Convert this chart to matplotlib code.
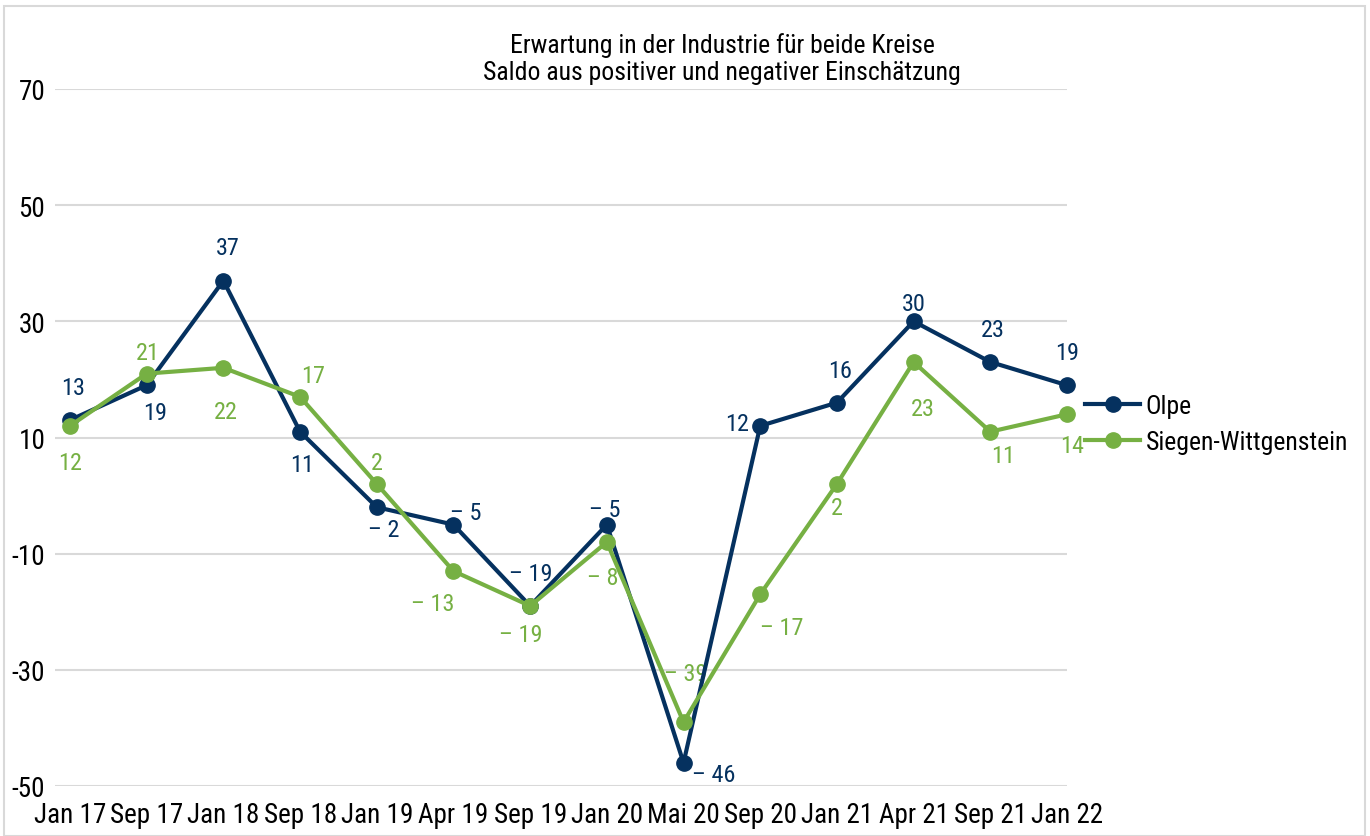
import matplotlib.pyplot as plt
from matplotlib import font_manager
from matplotlib.lines import Line2D
from matplotlib.patches import Rectangle

# Data
months = ['Jan 17', 'Sep 17', 'Jan 18', 'Sep 18', 'Jan 19', 'Apr 19', 'Sep 19',
          'Jan 20', 'Mai 20', 'Sep 20', 'Jan 21', 'Apr 21', 'Sep 21', 'Jan 22']
olpe = [13, 19, 37, 11, -2, -5, -19, -5, -46, 12, 16, 30, 23, 19]
siegen = [12, 21, 22, 17, 2, -13, -19, -8, -39, -17, 2, 23, 11, 14]
y_ticks = [-50, -30, -10, 10, 30, 50, 70]

# label offsets in pixels (dx, dy) for each data label
olpe_offsets = [(3, 33), (8, -27), (4, 33), (2, -33), (7, -22), (12, 12), (1, 32),
                (-2, 15), (30, -12), (-23, 2), (3, 32), (0, 18), (3, 32), (0, 33)]
siegen_offsets = [(0, -37), (1, 21), (2, -44), (13, 21), (0, 21), (-21, -32), (-9, -29),
                  (-4, -35), (2, 49), (22, -33), (0, -24), (9, -47), (13, -24), (5, -31)]

navy = '#05315f'
green = '#76b043'

available = {f.name for f in font_manager.fontManager.ttflist}
family = 'DejaVu Sans'
for name in ['Roboto Condensed', 'Archivo Narrow', 'Liberation Sans Narrow']:
    if name in available:
        family = name
        break
plt.rcParams['font.family'] = [family, 'DejaVu Sans']

fig = plt.figure(figsize=(13.7, 8.37), dpi=100)
ax = fig.add_axes([55 / 1370, 50 / 837, (1067 - 55) / 1370, (787 - 90) / 837])

x = list(range(len(months)))
ax.set_xlim(-15 / 76.7, len(months) - 1)
ax.set_ylim(-50, 70)

for yt in y_ticks:
    ax.axhline(yt, color='#d9d9d9', lw=1.5, zorder=0)

ax.plot(x, olpe, color=navy, lw=3, marker='o', ms=11, clip_on=False, zorder=3, label='Olpe')
ax.plot(x, siegen, color=green, lw=3, marker='o', ms=11, clip_on=False, zorder=4,
        label='Siegen-Wittgenstein')


def fmt(v):
    return f'\u2013 {abs(v)}' if v < 0 else f'{v}'


# labels sit under the lines, as in the original
for i, v in enumerate(olpe):
    dx, dy = olpe_offsets[i]
    ax.annotate(fmt(v), (i, v), xytext=(dx * 0.72, dy * 0.72), textcoords='offset points',
                ha='center', va='center', fontsize=17.5, color=navy, zorder=2)
for i, v in enumerate(siegen):
    dx, dy = siegen_offsets[i]
    ax.annotate(fmt(v), (i, v), xytext=(dx * 0.72, dy * 0.72), textcoords='offset points',
                ha='center', va='center', fontsize=17.5, color=green, zorder=2)

ax.set_xticks(x)
ax.set_xticklabels(months, fontsize=19.5)
ax.set_yticks(y_ticks)
ax.set_yticklabels([str(t) for t in y_ticks], fontsize=19.5)
ax.tick_params(length=0, pad=11)
ax.tick_params(axis='y', pad=7)
for s in ax.spines.values():
    s.set_visible(False)

fig.text(722 / 1370, 1 - 59 / 837, 'Erwartung in der Industrie für beide Kreise\n'
         'Saldo aus positiver und negativer Einschätzung',
         ha='center', va='center', fontsize=18.5, linespacing=1.15)

handles = [Line2D([], [], color=navy, lw=3, marker='o', ms=11),
           Line2D([], [], color=green, lw=3, marker='o', ms=11)]
fig.legend(handles, ['Olpe', 'Siegen-Wittgenstein'], loc='center left',
           bbox_to_anchor=(1085 / 1370, 1 - 425 / 837), frameon=False, fontsize=18.5,
           handlelength=2.15, handletextpad=0.2, labelspacing=0.5,
           borderpad=0, borderaxespad=0)

fig.patches.append(Rectangle((4 / 1370, 0), 1361 / 1370, 1 - 7 / 837, transform=fig.transFigure,
                             fill=False, edgecolor='#d9d9d9', lw=1.5))

fig.savefig('out.png', dpi=100)
